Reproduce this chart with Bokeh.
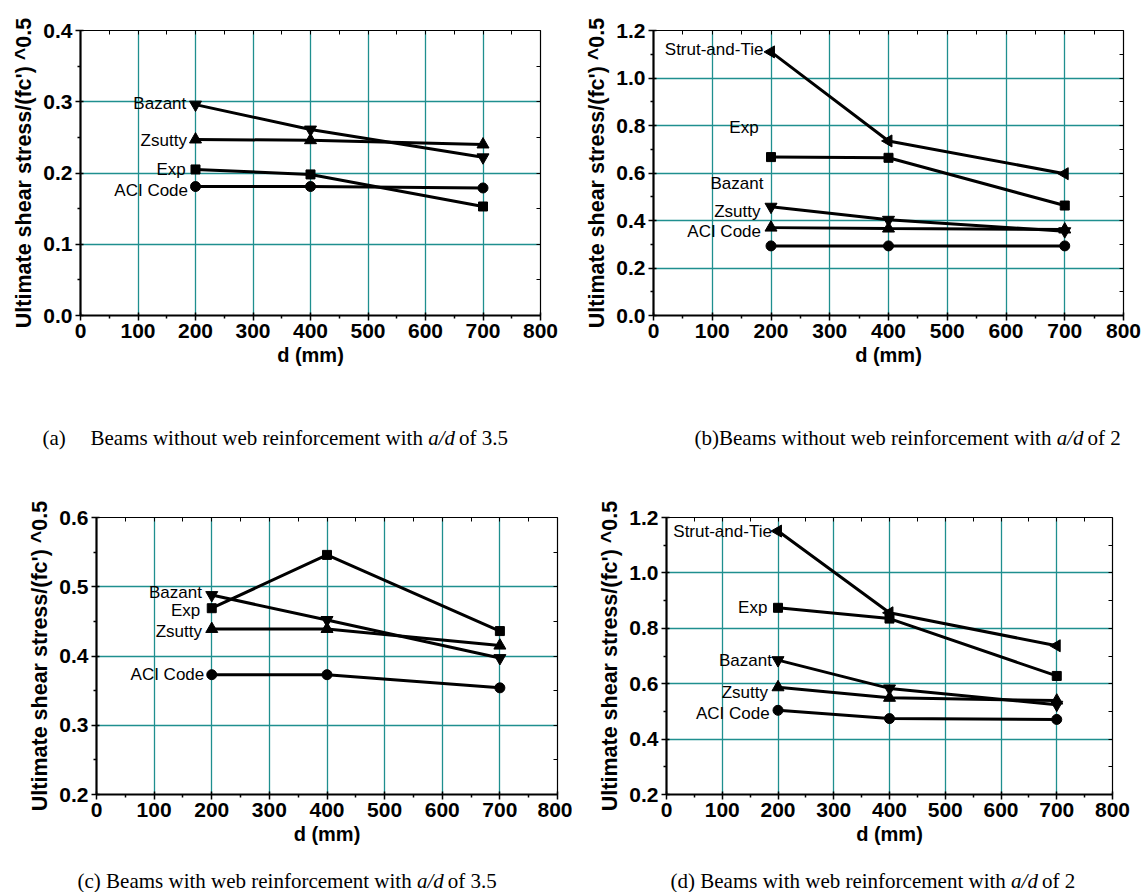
import math
from bokeh.plotting import figure
from bokeh.layouts import column, row
from bokeh.models import (Range1d, FixedTicker, LinearAxis, Label,
                          NumeralTickFormatter, CustomJSTickFormatter)
from bokeh.embed import file_html
from bokeh.resources import INLINE

# ---------------- data ----------------
d_mm = [200, 400, 700]

# (a) without web reinforcement, a/d = 3.5
a_exp = [0.205, 0.198, 0.153]
a_aci = [0.181, 0.181, 0.179]
a_zsutty = [0.247, 0.246, 0.240]
a_bazant = [0.296, 0.261, 0.222]

# (b) without web reinforcement, a/d = 2
b_strut = [1.110, 0.735, 0.597]
b_exp = [0.667, 0.664, 0.463]
b_bazant = [0.458, 0.403, 0.355]
b_zsutty = [0.370, 0.366, 0.362]
b_aci = [0.293, 0.293, 0.293]

# (c) with web reinforcement, a/d = 3.5
c_exp = [0.469, 0.546, 0.436]
c_bazant = [0.488, 0.452, 0.397]
c_zsutty = [0.439, 0.439, 0.415]
c_aci = [0.373, 0.373, 0.354]

# (d) with web reinforcement, a/d = 2
d_strut = [1.151, 0.856, 0.737]
d_exp = [0.874, 0.835, 0.628]
d_bazant = [0.685, 0.583, 0.524]
d_zsutty = [0.587, 0.549, 0.539]
d_aci = [0.504, 0.474, 0.471]

x_title = "d (mm)"
y_title = "Ultimate shear stress/(fc') ^0.5"

cap_a = [("(a)", False)]
cap_a2 = [("Beams without web reinforcement with ", False), ("a/d", True), (" of 3.5", False)]
cap_b = [("(b)Beams without web reinforcement with ", False), ("a/d", True), (" of 2", False)]
cap_c = [("(c) Beams with web reinforcement with ", False), ("a/d", True), (" of 3.5", False)]
cap_d = [("(d) Beams with web reinforcement with ", False), ("a/d", True), (" of 2", False)]

# ---------------- styling helpers ----------------
SANS = "Liberation Sans"
SERIF = "Liberation Serif"
GRID = "#1f8f8f"
CAP_SIZE = 21

TIMES_W = {' ': 250, '(': 333, ')': 333, 'a': 444, 'b': 500, 'c': 444, 'd': 500,
           'e': 444, 'f': 333, 'h': 500, 'i': 278, 'm': 778, 'n': 500, 'o': 500,
           'r': 333, 's': 389, 't': 278, 'u': 500, 'w': 722, 'B': 667, '.': 250,
           '/': 278}
for ch in "0123456789":
    TIMES_W[ch] = 500


def text_w(s, size):
    return sum(TIMES_W.get(c, 500) for c in s) * size / 1000.0


def tick_list(start, stop, step):
    n = int(round((stop - start) / step))
    return [round(start + i * step, 4) for i in range(n + 1)]


def make_panel(w, h, ml, mr, mt, mb, y0, y1, ystep):
    p = figure(width=w, height=h, x_range=Range1d(0, 800), y_range=Range1d(y0, y1),
               output_backend="svg", toolbar_location=None,
               min_border_left=ml, min_border_right=mr, min_border_top=mt,
               min_border_bottom=mb, background_fill_color="white",
               border_fill_color="white", outline_line_color=None)
    xmaj = tick_list(0, 800, 100)
    xmin = tick_list(50, 750, 100)
    ymaj = tick_list(y0, y1, ystep)
    ymin = tick_list(y0 + ystep / 2, y1 - ystep / 2, ystep)
    xt = FixedTicker(ticks=xmaj, minor_ticks=xmin)
    yt = FixedTicker(ticks=ymaj, minor_ticks=ymin)
    p.xaxis.ticker = xt
    p.yaxis.ticker = yt
    p.yaxis.formatter = NumeralTickFormatter(format="0.0")
    for ax in (p.xaxis[0], p.yaxis[0]):
        ax.axis_line_width = 2.2
        ax.axis_line_color = "black"
        ax.major_tick_out = 5
        ax.major_tick_in = 3
        ax.minor_tick_out = 3
        ax.minor_tick_in = 0
        ax.major_tick_line_width = 1.5
        ax.minor_tick_line_width = 1.5
        ax.major_label_text_font = SANS
        ax.major_label_text_font_style = "bold"
        ax.major_label_text_font_size = "21px"
        ax.major_label_text_color = "black"
        ax.axis_label_text_font = SANS
        ax.axis_label_text_font_style = "bold"
        ax.axis_label_text_color = "black"
    p.xaxis.major_label_standoff = 3
    p.yaxis.major_label_standoff = 3
    p.xaxis.axis_label = x_title
    p.xaxis.axis_label_text_font_size = "20px"
    p.xaxis.axis_label_standoff = 3
    p.yaxis.axis_label = y_title
    p.yaxis.axis_label_text_font_size = "21.5px"
    p.yaxis.axis_label_standoff = 4
    # frame ticks on the right and top (no labels)
    for loc, tk in (("right", yt), ("above", xt)):
        ax = LinearAxis(ticker=tk, formatter=CustomJSTickFormatter(code="return ''"),
                        major_label_text_font_size="0px", major_label_standoff=0,
                        major_tick_in=4, major_tick_out=0, minor_tick_in=4,
                        minor_tick_out=0, axis_line_width=1.2, axis_line_color="black")
        p.add_layout(ax, loc)
    p.xgrid.grid_line_color = GRID
    p.ygrid.grid_line_color = GRID
    p.xgrid.grid_line_width = 1.3
    p.ygrid.grid_line_width = 1.3
    return p


def series(p, ys, marker, size, angle=0.0):
    p.line(d_mm, ys, line_color="black", line_width=3)
    p.scatter(d_mm, ys, marker=marker, size=size, angle=angle,
              fill_color="black", line_color="black")


def tag(p, x, y, txt):
    p.add_layout(Label(x=x, y=y, text=txt, text_align="right", text_baseline="middle",
                       text_font=SANS, text_font_size="17px", text_color="black"))


def caption_fig(w, h, items):
    # items: list of (x, y, parts); x,y in pixels inside this strip (y from bottom)
    p = figure(width=w, height=h, x_range=Range1d(0, w), y_range=Range1d(0, h),
               output_backend="svg", toolbar_location=None, min_border=0,
               x_axis_location=None, y_axis_location=None, outline_line_color=None,
               background_fill_color="white", border_fill_color="white")
    p.grid.visible = False
    for x, y, parts in items:
        cx = x
        for txt, it in parts:
            stripped = txt.lstrip(" ")
            cx += text_w(txt[:len(txt) - len(stripped)], CAP_SIZE)
            p.add_layout(Label(x=cx, y=y, text=stripped.rstrip(" "), text_align="left",
                               text_baseline="middle", text_font=SERIF,
                               text_font_size=f"{CAP_SIZE}px",
                               text_font_style="italic" if it else "normal",
                               text_color="black"))
            cx += text_w(stripped, CAP_SIZE)
    return p


# ---------------- panel (a) ----------------
pa = make_panel(572, 420, 80, 32, 30, 100, 0.0, 0.4, 0.1)
series(pa, a_bazant, "inverted_triangle", 12)
series(pa, a_zsutty, "triangle", 12)
series(pa, a_exp, "square", 9)
series(pa, a_aci, "circle", 10)
tag(pa, 184, 0.2975, "Bazant")
tag(pa, 185, 0.246, "Zsutty")
tag(pa, 183, 0.2046, "Exp")
tag(pa, 187, 0.176, "ACI Code")

# ---------------- panel (b) ----------------
pb = make_panel(572, 420, 81, 21, 20, 105, 0.0, 1.2, 0.2)
series(pb, b_strut, "triangle", 12, math.pi / 2)
series(pb, b_exp, "square", 9)
series(pb, b_bazant, "inverted_triangle", 12)
series(pb, b_zsutty, "triangle", 12)
series(pb, b_aci, "circle", 10)
tag(pb, 187, 1.119, "Strut-and-Tie")
tag(pb, 179, 0.793, "Exp")
tag(pb, 187, 0.556, "Bazant")
tag(pb, 182, 0.44, "Zsutty")
tag(pb, 183, 0.353, "ACI Code")

# ---------------- panel (c) ----------------
pc = make_panel(572, 390, 96, 15, 37, 66, 0.2, 0.6, 0.1)
series(pc, c_exp, "square", 9)
series(pc, c_bazant, "inverted_triangle", 12)
series(pc, c_zsutty, "triangle", 12)
series(pc, c_aci, "circle", 10)
tag(pc, 183, 0.491, "Bazant")
tag(pc, 180, 0.466, "Exp")
tag(pc, 183, 0.4355, "Zsutty")
tag(pc, 187, 0.373, "ACI Code")

# ---------------- panel (d) ----------------
pd_ = make_panel(572, 390, 94, 32, 47, 61, 0.2, 1.2, 0.2)
series(pd_, d_strut, "triangle", 12, math.pi / 2)
series(pd_, d_exp, "square", 9)
series(pd_, d_bazant, "inverted_triangle", 12)
series(pd_, d_zsutty, "triangle", 12)
series(pd_, d_aci, "circle", 10)
tag(pd_, 189, 1.151, "Strut-and-Tie")
tag(pd_, 181, 0.874, "Exp")
tag(pd_, 189, 0.685, "Bazant")
tag(pd_, 182, 0.569, "Zsutty")
tag(pd_, 185, 0.494, "ACI Code")

# ---------------- captions ----------------
ca = caption_fig(572, 50, [(42, 33, cap_a), (90, 33, cap_a2)])
cb = caption_fig(572, 50, [(122, 33, cap_b)])
cc = caption_fig(572, 32, [(77, 12, cap_c)])
cd = caption_fig(572, 32, [(98, 12, cap_d)])

layout = column(row(pa, pb, spacing=0), row(ca, cb, spacing=0),
                row(pc, pd_, spacing=0), row(cc, cd, spacing=0), spacing=0)
open("out.html", "w").write(file_html(layout, INLINE))
